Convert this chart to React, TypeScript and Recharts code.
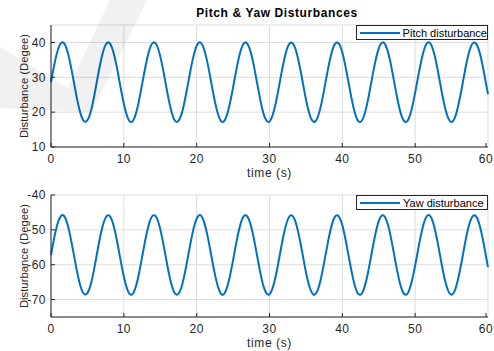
import { LineChart, Line, XAxis, YAxis, CartesianGrid, Label } from 'recharts';

// sampled every 0.5 s from 0 to 60 s
const SAMPLE_STEP = 0.5;

const pitchDisturbance = [
    28.6, 34.1, 38.2, 40.0, 39.0, 35.4, 30.2, 24.6, 20.0, 17.5, 17.7, 20.5, 25.4,
    31.1, 36.1, 39.3, 39.9, 37.7, 33.3, 27.7, 22.4, 18.6, 17.2, 18.6, 22.5,
    27.9, 33.4, 37.8, 39.9, 39.3, 36.0, 31.0, 25.3, 20.5, 17.6, 17.5, 20.0, 24.7,
    30.3, 35.5, 39.0, 40.0, 38.1, 34.0, 28.5, 23.1, 19.0, 17.2, 18.3, 21.9, 27.1,
    32.7, 37.3, 39.8, 39.5, 36.6, 31.7, 26.1, 21.0, 17.9, 17.3, 19.6, 24.0,
    29.6, 34.9, 38.7, 40.0, 38.5, 34.6, 29.3, 23.7, 19.4, 17.3, 18.0, 21.3, 26.4,
    32.0, 36.8, 39.6, 39.7, 37.1, 32.4, 26.8, 21.6, 18.1, 17.2, 19.1, 23.3,
    28.8, 34.2, 38.3, 40.0, 38.9, 35.3, 30.0, 24.4, 19.8, 17.4, 17.7, 20.7, 25.6,
    31.2, 36.2, 39.4, 39.9, 37.6, 33.1, 27.5, 22.2, 18.5, 17.2, 18.7, 22.7,
    28.0, 33.6, 37.9, 39.9, 39.2, 35.9, 30.8, 25.1,
];

const yawDisturbance = [
    -57.2, -51.7, -47.6, -45.8, -46.8, -50.4, -55.6, -61.2, -65.8, -68.3, -68.1, -65.3, -60.4,
    -54.7, -49.7, -46.5, -45.9, -48.1, -52.5, -58.1, -63.4, -67.2, -68.6, -67.2, -63.3,
    -57.9, -52.4, -48.0, -45.9, -46.5, -49.8, -54.8, -60.5, -65.3, -68.2, -68.3, -65.8, -61.1,
    -55.5, -50.3, -46.8, -45.8, -47.7, -51.8, -57.3, -62.7, -66.8, -68.6, -67.5, -63.9, -58.7,
    -53.1, -48.5, -46.0, -46.3, -49.2, -54.1, -59.7, -64.8, -67.9, -68.5, -66.2, -61.8,
    -56.2, -50.9, -47.1, -45.8, -47.3, -51.2, -56.5, -62.1, -66.4, -68.5, -67.8, -64.5, -59.4,
    -53.8, -49.0, -46.2, -46.1, -48.7, -53.4, -59.0, -64.2, -67.7, -68.6, -66.7, -62.5,
    -57.0, -51.6, -47.5, -45.8, -46.9, -50.5, -55.8, -61.4, -66.0, -68.4, -68.1, -65.1, -60.2,
    -54.6, -49.6, -46.4, -45.9, -48.2, -52.7, -58.3, -63.6, -67.3, -68.6, -67.1, -63.1,
    -57.8, -52.2, -47.9, -45.9, -46.6, -49.9, -55.0, -60.7,
];

const timeTicks = [0, 10, 20, 30, 40, 50, 60];
const pitchTicks = [10, 20, 30, 40];
const yawTicks = [-70, -60, -50, -40];

const pitchData = pitchDisturbance.map((v, i) => ({ t: i * SAMPLE_STEP, v }));
const yawData = yawDisturbance.map((v, i) => ({ t: i * SAMPLE_STEP, v }));

const FONT = '"Liberation Sans", Arial, sans-serif';
const AXIS = '#262626';
const BLUE = '#0072BD';
const TICK_LEN = 4;

// MATLAB style: inward tick marks plus label
const BottomTick = (props: any) => {
    const { x, y, payload } = props;
    const axisY = y - 7;
    return (
        <g>
            <line x1={x} x2={x} y1={axisY} y2={axisY - TICK_LEN} stroke={AXIS} />
            <text x={x} y={y} dy="0.71em" textAnchor="middle" fill={AXIS} fontSize={12} fontFamily={FONT} letterSpacing={0.5}>
                {payload.value}
            </text>
        </g>
    );
};

const LeftTick = (props: any) => {
    const { x, y, payload } = props;
    const axisX = x + 5;
    return (
        <g>
            <line x1={axisX} x2={axisX + TICK_LEN} y1={y} y2={y} stroke={AXIS} />
            <text x={x} y={y} dy="0.355em" textAnchor="end" fill={AXIS} fontSize={12} fontFamily={FONT} letterSpacing={0.5}>
                {payload.value}
            </text>
        </g>
    );
};

const TopTick = (props: any) => {
    const { x, y } = props;
    return <line x1={x} x2={x} y1={y} y2={y + TICK_LEN} stroke={AXIS} />;
};

const RightTick = (props: any) => {
    const { x, y } = props;
    return <line x1={x} x2={x - TICK_LEN} y1={y} y2={y} stroke={AXIS} />;
};

function Panel({ data, domain, ticks, legend, top }: {
    data: { t: number; v: number }[];
    domain: [number, number];
    ticks: number[];
    legend: string;
    top: number;
}) {
    return (
        <div style={{ position: 'absolute', left: 0, top, width: 494, height: 181 }}>
            <LineChart width={494} height={181} data={data} margin={{ top: 25, right: 6, bottom: 0, left: 0 }}>
                <CartesianGrid stroke="#dddddd" strokeWidth={1} />
                <XAxis
                    dataKey="t"
                    type="number"
                    domain={[0, 60]}
                    ticks={timeTicks}
                    height={34}
                    stroke={AXIS}
                    tickLine={false}
                    tickSize={4}
                    tickMargin={3}
                    tick={BottomTick}
                >
                    <Label value="time (s)" position="insideBottom" offset={4} fill={AXIS} fontSize={12} fontFamily={FONT} letterSpacing={0.6} />
                </XAxis>
                <XAxis
                    xAxisId="top"
                    orientation="top"
                    dataKey="t"
                    type="number"
                    domain={[0, 60]}
                    ticks={timeTicks}
                    height={0}
                    tickSize={0}
                    tickMargin={0}
                    tickLine={false}
                    tick={TopTick}
                    stroke={AXIS}
                />
                <YAxis
                    type="number"
                    domain={domain}
                    ticks={ticks}
                    width={51}
                    stroke={AXIS}
                    tickLine={false}
                    tickSize={4}
                    tickMargin={1}
                    tick={LeftTick}
                >
                    <Label value="Disturbance (Degee)" angle={-90} position="center" dx={-2} fill={AXIS} fontSize={11.3} fontFamily={FONT} />
                </YAxis>
                <YAxis
                    yAxisId="right"
                    orientation="right"
                    type="number"
                    domain={domain}
                    ticks={ticks}
                    width={0}
                    tickSize={0}
                    tickMargin={0}
                    tickLine={false}
                    tick={RightTick}
                    stroke={AXIS}
                />
                <Line type="natural" dataKey="v" stroke={BLUE} strokeWidth={2} dot={false} isAnimationActive={false} />
            </LineChart>
            <div
                style={{
                    position: 'absolute',
                    left: 356,
                    top: 25,
                    width: 132,
                    height: 15,
                    boxSizing: 'border-box',
                    border: '1px solid #262626',
                    background: '#fff',
                    display: 'flex',
                    alignItems: 'center',
                    fontFamily: FONT,
                    fontSize: 11,
                    color: '#000',
                    whiteSpace: 'nowrap',
                }}
            >
                <span style={{ display: 'inline-block', width: 40, height: 2, background: BLUE, margin: '0 3px 0 3px' }} />
                <span>{legend}</span>
            </div>
        </div>
    );
}

export default function App() {
    return (
        <div style={{ position: 'absolute', left: 0, top: 0, width: 494, height: 351, background: '#fff', overflow: 'hidden' }}>
            <div
                style={{
                    position: 'absolute',
                    left: 0,
                    top: 6,
                    width: 554,
                    textAlign: 'center',
                    fontFamily: FONT,
                    fontSize: 12,
                    fontWeight: 'bold',
                    letterSpacing: 0.6,
                    color: '#000',
                }}
            >
                Pitch &amp; Yaw Disturbances
            </div>
            <Panel data={pitchData} domain={[10, 45]} ticks={pitchTicks} legend="Pitch disturbance" top={0} />
            <Panel data={yawData} domain={[-75, -40]} ticks={yawTicks} legend="Yaw disturbance" top={170} />
            {/* faint watermark over the figure */}
            <svg width={494} height={351} style={{ position: 'absolute', left: 0, top: 0, pointerEvents: 'none' }}>
                <polygon points="0,47 68,88 110,0 147,0 92,112 0,108" fill="rgba(0,0,0,0.055)" />
            </svg>
        </div>
    );
}
